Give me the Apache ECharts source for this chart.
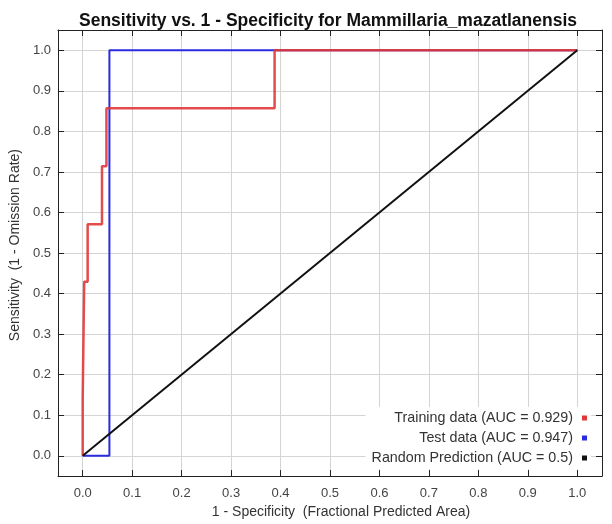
<!DOCTYPE html>
<html>
<head>
<meta charset="utf-8">
<script src="https://cdn.jsdelivr.net/npm/echarts@6/dist/echarts.min.js"></script>
<style>
html,body{margin:0;padding:0;background:#fff;}
#chart{width:612px;height:524px;}
</style>
</head>
<body>
<div id="chart"></div>
<script>
// ROC curve vertices (1 - specificity, sensitivity)
const trainingX = [0, 0, 0.003, 0.003, 0.01, 0.01, 0.039, 0.039, 0.048, 0.048, 0.388, 0.388, 1.0];
const trainingY = [0, 0.143, 0.143, 0.429, 0.429, 0.571, 0.571, 0.714, 0.714, 0.857, 0.857, 1.0, 1.0];
const testX = [0, 0.054, 0.054, 1.0];
const testY = [0, 0, 1.0, 1.0];
const randomX = [0, 1.0];
const randomY = [0, 1.0];
const tickValues = [0, 0.1, 0.2, 0.3, 0.4, 0.5, 0.6, 0.7, 0.8, 0.9, 1.0];
const seriesNames = ['Training data (AUC = 0.929)', 'Test data (AUC = 0.947)', 'Random Prediction (AUC = 0.5)'];
const titleText = 'Sensitivity vs. 1 - Specificity for Mammillaria_mazatlanensis';
const xName = '1 - Specificity  (Fractional Predicted Area)';
const yName = 'Sensitivity  (1 - Omission Rate)';

const zip = (xs, ys) => xs.map((x, i) => [x, ys[i]]);
const FONT = 'Liberation Sans, Arial, sans-serif';

function mkAxis(pos, main, margin) {
  return {
    type: 'value',
    position: pos,
    min: -0.05,
    max: 1.05,
    axisLine: { show: true, onZero: false, lineStyle: { color: '#222', width: 1 } },
    axisTick: { show: true, inside: true, length: 6, customValues: tickValues, lineStyle: { color: '#222' } },
    axisLabel: main ? {
      show: true, customValues: tickValues, color: '#444', fontSize: 13, fontFamily: FONT, margin: margin,
      formatter: v => Number(v).toFixed(1)
    } : { show: false },
    splitLine: main ? { show: true, lineStyle: { color: '#d4d4d4', width: 1 } } : { show: false }
  };
}

const chart = echarts.init(document.getElementById('chart'), null, { renderer: 'canvas' });
const xMain = mkAxis('bottom', true, 11);
xMain.name = xName;
xMain.nameLocation = 'middle';
xMain.nameGap = 28;
xMain.nameTextStyle = { color: '#333', fontSize: 14, fontFamily: FONT, padding: [0, 0, 0, 22] };
const yMain = mkAxis('left', true, 7);
yMain.name = yName;
yMain.nameLocation = 'middle';
yMain.nameGap = 26;
yMain.nameTextStyle = { color: '#333', fontSize: 14, fontFamily: FONT, padding: [0, 0, 0, 16] };

chart.setOption({
  animation: false,
  backgroundColor: '#fff',
  title: {
    text: titleText,
    left: 323, top: 7, textAlign: 'center',
    textStyle: { fontSize: 17.5, fontWeight: 'bold', color: '#111', fontFamily: FONT }
  },
  grid: { left: 55, right: 10, top: 30, bottom: 46, containLabel: false },
  xAxis: [xMain, mkAxis('top', false, 0)],
  yAxis: [yMain, mkAxis('right', false, 0)],
  legend: {
    orient: 'vertical',
    right: 21, bottom: 55,
    align: 'right',
    icon: 'rect',
    itemWidth: 5, itemHeight: 5,
    itemGap: 6,
    padding: [4, 4, 4, 6],
    backgroundColor: '#fff',
    textStyle: { color: '#333', fontSize: 14.3, fontFamily: FONT, padding: [0, 4, 0, 0] },
    data: seriesNames
  },
  series: [
    {
      name: seriesNames[1], type: 'line', data: zip(testX, testY),
      showSymbol: false, symbol: 'none', z: 3,
      lineStyle: { color: '#2a2ae0', width: 2 }, itemStyle: { color: '#2a2ae0' }
    },
    {
      name: seriesNames[0], type: 'line', data: zip(trainingX, trainingY),
      showSymbol: false, symbol: 'none', z: 4,
      lineStyle: { color: '#e03838', width: 2.5, opacity: 0.9 }, itemStyle: { color: '#e03838' }
    },
    {
      name: seriesNames[2], type: 'line', data: zip(randomX, randomY),
      showSymbol: false, symbol: 'none', z: 5,
      lineStyle: { color: '#111', width: 2 }, itemStyle: { color: '#111' }
    }
  ]
});
</script>
</body>
</html>
